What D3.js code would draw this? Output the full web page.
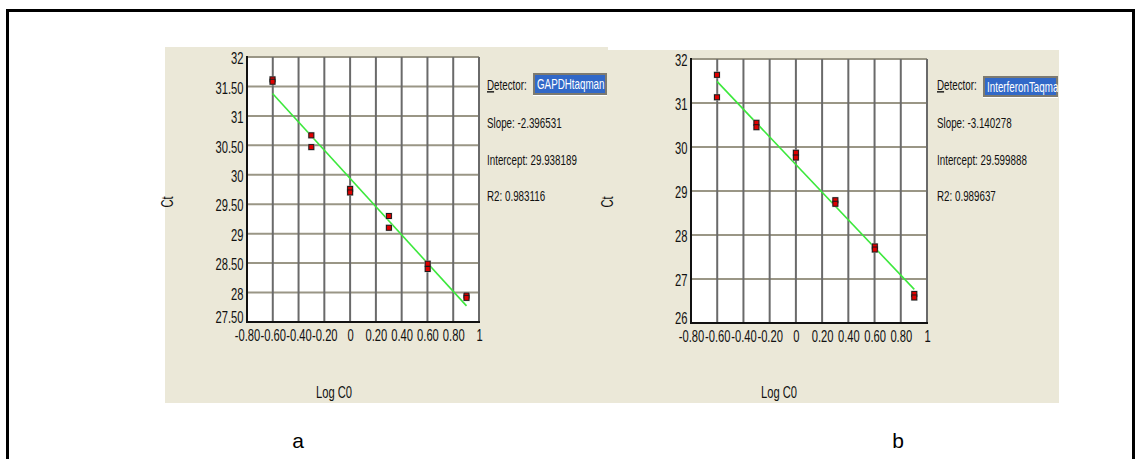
<!DOCTYPE html>
<html>
<head>
<meta charset="utf-8">
<script src="https://cdn.jsdelivr.net/npm/d3@7"></script>
<style>
  html, body { margin: 0; padding: 0; background: #fff; }
  svg { display: block; }
</style>
</head>
<body>
<svg id="chart" width="1135" height="459"></svg>
<script>

// log of the dilution, shared by both standard curves
var logCo = [-0.602, -0.301, 0, 0.301, 0.602, 0.903];

// GAPDH taqman, two replicates per dilution
var gapdhRep1 = [31.62, 30.67, 29.76, 29.30, 28.49, 27.95];
var gapdhRep2 = [31.58, 30.47, 29.70, 29.10, 28.40, 27.91];

// Interferon taqman, two replicates per dilution
var ifnRep1 = [31.64, 30.55, 29.87, 28.79, 27.74, 26.66];
var ifnRep2 = [31.13, 30.45, 29.76, 28.71, 27.67, 26.58];

var xTicks = [-0.8, -0.6, -0.4, -0.2, 0, 0.2, 0.4, 0.6, 0.8, 1];
var gapdhYTicks = [27.5, 28, 28.5, 29, 29.5, 30, 30.5, 31, 31.5, 32];
var ifnYTicks = [26, 27, 28, 29, 30, 31, 32];

// plain hyphen instead of d3's unicode minus
var fmt2 = d3.formatLocale({decimal: ".", thousands: ",", grouping: [3], currency: ["", ""], minus: "-"}).format;

var panels = [
  { id: "a", detector: "GAPDHtaqman", slope: -2.396531, intercept: 29.938189, r2: 0.983116,
    rep1: gapdhRep1, rep2: gapdhRep2, yTicks: gapdhYTicks, yFmt: v => (v % 1 === 0 ? fmt2("d")(v) : fmt2(".2f")(v)),
    bg: [165, 47, 443, 356], plot: [247, 57, 479, 322], ctX: 173, logX: 334,
    infoX: 487, box: [533, 73, 74, 23], letterX: 298 },
  { id: "b", detector: "InterferonTaqman", slope: -3.140278, intercept: 29.599888, r2: 0.989637,
    rep1: ifnRep1, rep2: ifnRep2, yTicks: ifnYTicks, yFmt: fmt2("d"),
    bg: [608, 50, 451, 353], plot: [691, 59, 927, 323], ctX: 613, logX: 779,
    infoX: 937, box: [983, 76, 75, 22], letterX: 898 }
];

var FONT = "'Liberation Sans', Arial, sans-serif";
var SQ = "scale(0.7,1)";

var xFmt = function(v) {
  if (v === 0) return "0";
  if (v === 1) return "1";
  return fmt2(".2f")(v);
};

var svg = d3.select("#chart");

function narrowText(g, x, y, str, size, anchor) {
  return g.append("text")
    .attr("transform", "translate(" + x + "," + y + ") " + SQ)
    .attr("font-family", FONT)
    .attr("font-size", size)
    .attr("text-anchor", anchor || "start")
    .attr("fill", "#111")
    .text(str);
}

function draw_panel(p, idx) {
  var g = svg.append("g");

  g.append("rect")
    .attr("x", p.bg[0]).attr("y", p.bg[1])
    .attr("width", p.bg[2]).attr("height", p.bg[3])
    .attr("fill", "#ebe8d8");

  var x = d3.scaleLinear().domain([-0.8, 1]).range([p.plot[0], p.plot[2]]);
  var y = d3.scaleLinear().domain(d3.extent(p.yTicks)).range([p.plot[3], p.plot[1]]);
  var yMin = d3.min(p.yTicks), yMax = d3.max(p.yTicks);

  g.append("rect")
    .attr("x", x(-0.8)).attr("y", y(yMax))
    .attr("width", x(1) - x(-0.8)).attr("height", y(yMin) - y(yMax))
    .attr("fill", "#fff");

  // grid
  g.selectAll(".hgrid").data(p.yTicks.slice(1)).enter().append("line")
    .attr("x1", x(-0.8)).attr("x2", x(1))
    .attr("y1", d => y(d)).attr("y2", d => y(d))
    .attr("stroke", "#9a9686").attr("stroke-width", 2);
  g.selectAll(".vgrid").data(xTicks.slice(1)).enter().append("line")
    .attr("x1", d => x(d)).attr("x2", d => x(d))
    .attr("y1", y(yMin)).attr("y2", y(yMax))
    .attr("stroke", "#6a6a6a").attr("stroke-width", 2);

  // axes lines
  g.append("line")
    .attr("x1", x(-0.8)).attr("x2", x(-0.8))
    .attr("y1", y(yMin) + 1).attr("y2", y(yMax) - 1)
    .attr("stroke", "#111").attr("stroke-width", 2);
  g.append("line")
    .attr("x1", x(-0.8) - 1).attr("x2", x(1) + 1)
    .attr("y1", y(yMin)).attr("y2", y(yMin))
    .attr("stroke", "#111").attr("stroke-width", 2);

  // tick labels
  var xa = g.append("g")
    .attr("transform", "translate(0," + y(yMin) + ")")
    .call(d3.axisBottom(x).tickValues(xTicks).tickFormat(xFmt).tickSize(0).tickPadding(8));
  var ya = g.append("g")
    .attr("transform", "translate(" + x(-0.8) + ",0)")
    .call(d3.axisLeft(y).tickValues(p.yTicks).tickFormat(p.yFmt).tickSize(0).tickPadding(5));
  [xa, ya].forEach(function(a) {
    a.select(".domain").remove();
    a.attr("font-family", FONT).attr("font-size", 16);
    a.selectAll("text").attr("fill", "#111").attr("transform", SQ);
  });
  ya.selectAll("text").attr("dy", d => (d === yMin ? "0.05em" : "0.42em"));

  // axis titles
  g.append("text")
    .attr("transform", "translate(" + p.ctX + ",202) rotate(-90) " + SQ)
    .attr("font-family", FONT).attr("font-size", 16)
    .attr("text-anchor", "middle").attr("fill", "#111")
    .text("Ct");
  narrowText(g, p.logX, 398, "Log C0", 16, "middle");

  // regression line
  g.append("line")
    .attr("x1", x(logCo[0])).attr("y1", y(p.intercept + p.slope * logCo[0]))
    .attr("x2", x(logCo[logCo.length - 1])).attr("y2", y(p.intercept + p.slope * logCo[logCo.length - 1]))
    .attr("stroke", "#3ce83c").attr("stroke-width", 1.6);

  // replicate points
  var pts = [];
  logCo.forEach(function(v, i) {
    pts.push([v, p.rep1[i]]);
    pts.push([v, p.rep2[i]]);
  });
  g.selectAll(".halo").data(pts).enter().append("rect")
    .attr("x", d => x(d[0]) - 3.5).attr("y", d => y(d[1]) - 3.5)
    .attr("width", 7).attr("height", 7)
    .attr("fill", "#c8c8c8").attr("opacity", 0.7);
  g.selectAll(".pt").data(pts).enter().append("rect")
    .attr("x", d => x(d[0]) - 2.5).attr("y", d => y(d[1]) - 2.5)
    .attr("width", 5).attr("height", 5)
    .attr("fill", "#e00000").attr("stroke", "#1a1a1a").attr("stroke-width", 1);

  // detector info
  var det = narrowText(g, p.infoX, 90, "", 14);
  det.append("tspan").attr("text-decoration", "underline").text("D");
  det.append("tspan").text("etector:");

  var clipId = "clip" + idx;
  g.append("clipPath").attr("id", clipId).append("rect")
    .attr("x", p.box[0]).attr("y", p.box[1]).attr("width", p.box[2]).attr("height", p.box[3]);
  g.append("rect")
    .attr("x", p.box[0]).attr("y", p.box[1]).attr("width", p.box[2]).attr("height", p.box[3])
    .attr("fill", "#fff");
  g.append("rect")
    .attr("x", p.box[0] + 1).attr("y", p.box[1] + 1).attr("width", p.box[2] - 2).attr("height", p.box[3] - 3)
    .attr("fill", "#3168c8").attr("stroke", "#7d7a70").attr("stroke-width", 2);
  g.append("g").attr("clip-path", "url(#" + clipId + ")")
    .append("text")
    .attr("transform", "translate(" + (p.box[0] + 4) + "," + (p.box[1] + 16) + ") " + SQ)
    .attr("font-family", FONT).attr("font-size", 14).attr("fill", "#fff")
    .text(p.detector);

  narrowText(g, p.infoX, 128, "Slope:  " + p.slope.toFixed(6), 14);
  narrowText(g, p.infoX, 165, "Intercept:  " + p.intercept.toFixed(6), 14);
  narrowText(g, p.infoX, 201, "R2:  " + p.r2.toFixed(6), 14);

  // panel letter
  svg.append("text")
    .attr("x", p.letterX).attr("y", 448)
    .attr("font-family", "Arial, 'Liberation Sans', sans-serif")
    .attr("font-size", 21).attr("text-anchor", "middle").attr("fill", "#000")
    .text(p.id);
}

panels.forEach(draw_panel);

// outer frame, open at the bottom edge of the picture
svg.append("path")
  .attr("d", "M7.5,470 V10.5 H1133.5 V470")
  .attr("fill", "none").attr("stroke", "#000").attr("stroke-width", 3);

</script>
</body>
</html>
